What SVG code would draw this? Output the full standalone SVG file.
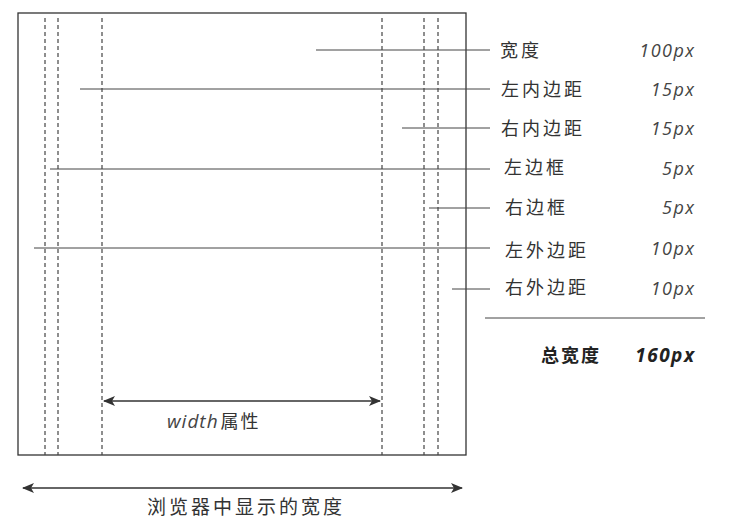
<svg xmlns="http://www.w3.org/2000/svg" width="729" height="524" viewBox="0 0 729 524">
<defs>
<style>
.frame{fill:none;stroke:#333;stroke-width:1.3}
.dash{stroke:#444;stroke-width:1.2;stroke-dasharray:4 3;fill:none}
.lead{stroke:#444;stroke-width:1;fill:none}
.arr{stroke:#333;stroke-width:1.3;fill:none}
.cn{font-family:"Noto Sans CJK SC","Liberation Sans",sans-serif;font-size:18px;fill:#333;letter-spacing:3px}
.val{font-family:"Open Sans","Liberation Sans",sans-serif;font-size:18px;font-style:italic;fill:#444;text-anchor:end;letter-spacing:1.5px}
.bold{font-weight:bold;fill:#222}
</style>
<marker id="ah" viewBox="0 0 12 10" refX="11" refY="5" markerWidth="12" markerHeight="10" markerUnits="userSpaceOnUse" orient="auto-start-reverse">
<path d="M0,0 L12,5 L0,10 L3,5 Z" fill="#333"/>
</marker>
</defs>
<g id="box">
<rect class="frame" x="18" y="13" width="448" height="442"/>
</g>
<g id="guides">
<line class="dash" x1="45" y1="18" x2="45" y2="455"/>
<line class="dash" x1="58" y1="18" x2="58" y2="455"/>
<line class="dash" x1="102" y1="18" x2="102" y2="455"/>
<line class="dash" x1="382" y1="18" x2="382" y2="455"/>
<line class="dash" x1="424" y1="18" x2="424" y2="455"/>
<line class="dash" x1="438" y1="18" x2="438" y2="455"/>
</g>
<g id="connectors">
<line class="lead" x1="316" y1="50" x2="490" y2="50"/>
<line class="lead" x1="80" y1="89" x2="490" y2="89"/>
<line class="lead" x1="402" y1="128" x2="490" y2="128"/>
<line class="lead" x1="50" y1="169" x2="490" y2="169"/>
<line class="lead" x1="429" y1="208" x2="490" y2="208"/>
<line class="lead" x1="34" y1="248" x2="490" y2="248"/>
<line class="lead" x1="452" y1="289" x2="490" y2="289"/>
<line class="lead" x1="485" y1="318" x2="705" y2="318"/>
<line class="arr" x1="104" y1="401" x2="380" y2="401" marker-start="url(#ah)" marker-end="url(#ah)"/>
<line class="arr" x1="23" y1="488" x2="462" y2="488" marker-start="url(#ah)" marker-end="url(#ah)"/>
</g>
<g id="labels">
<text class="cn" x="500" y="57">宽度</text>
<text class="val" x="695.5" y="57">100px</text>
<text class="cn" x="501" y="96">左内边距</text>
<text class="val" x="695.5" y="96">15px</text>
<text class="cn" x="501" y="135">右内边距</text>
<text class="val" x="695.5" y="135">15px</text>
<text class="cn" x="504" y="174">左边框</text>
<text class="val" x="695.5" y="175">5px</text>
<text class="cn" x="505" y="214">右边框</text>
<text class="val" x="695.5" y="214">5px</text>
<text class="cn" x="505" y="257">左外边距</text>
<text class="val" x="695.5" y="255">10px</text>
<text class="cn" x="505" y="294">右外边距</text>
<text class="val" x="695.5" y="295">10px</text>
<text class="cn bold" x="601" y="362" text-anchor="end" style="letter-spacing:2px">总宽度</text>
<text class="val bold" x="695.5" y="362" style="font-size:19px">160px</text>
</g>
<g id="width-label">
<text x="167" y="428" class="cn" style="letter-spacing:0"><tspan font-family="Open Sans, Liberation Sans, sans-serif" font-style="italic" font-size="19" fill="#444" style="letter-spacing:1px">width</tspan><tspan dx="2" style="letter-spacing:2px">属性</tspan></text>
</g>
<g id="browser-label">
<text class="cn" x="147" y="514" style="font-size:19px">浏览器中显示的宽度</text>
</g>
</svg>
